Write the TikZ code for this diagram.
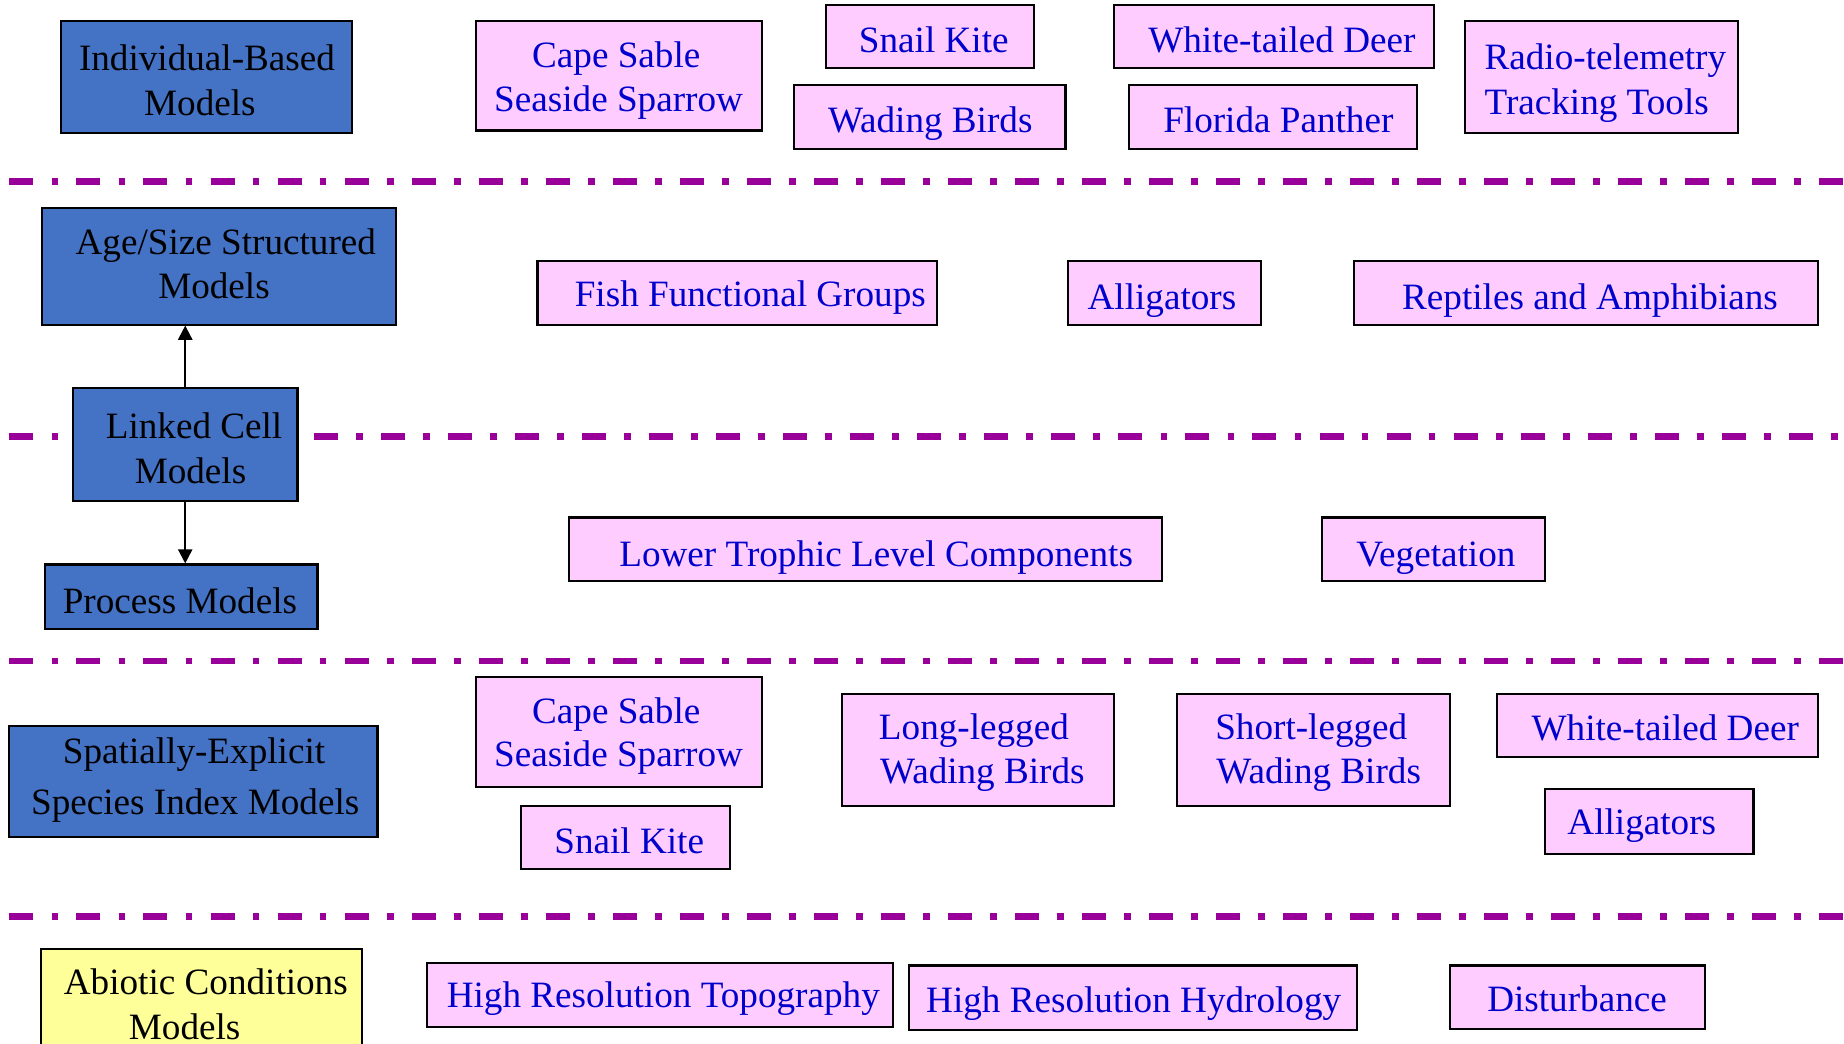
\documentclass[tikz,border=0pt]{standalone}
\usepackage{fontspec}
\setmainfont{Liberation Serif}
\usetikzlibrary{fit,arrows.meta}
\definecolor{modelblue}{HTML}{4472C4}
\definecolor{pinkfill}{HTML}{FFCCFF}
\definecolor{abioyellow}{HTML}{FFFF99}
\definecolor{itemblue}{HTML}{0000CC}
\definecolor{seppurple}{HTML}{990099}
\tikzset{
  boxbase/.style={draw=black, line width=0.9pt, inner sep=0pt},
  modelbox/.style={boxbase, fill=modelblue},
  itembox/.style={boxbase, fill=pinkfill},
  abiobox/.style={boxbase, fill=abioyellow},
  lbl/.style={inner sep=0pt, font=\fontsize{15.8pt}{19pt}\selectfont},
  mtxt/.style={lbl, text=black, anchor=base},
  itxt/.style={lbl, text=itemblue, anchor=base},
  itxtl/.style={lbl, text=itemblue, anchor=base west},
  sepline/.style={draw=seppurple, line width=2.9pt, dash pattern=on 10.2pt off 7.7pt on 2.9pt off 7.7pt},
  linkarrow/.style={draw=black, line width=0.9pt, -{Triangle[width=6pt,length=6pt]}},
}
\begin{document}
\begin{tikzpicture}[x=0.5pt,y=-0.5pt]
\clip (0,0) rectangle (1568,887);
\fill[white] (0,0) rectangle (1568,887);

% separators
\draw[sepline] (8,154) -- (1575,154);
\draw[sepline] (8,371) -- (51,371);
\draw[sepline] (267,371) -- (1575,371);
\draw[sepline] (8,562) -- (1575,562);
\draw[sepline] (8,779) -- (1575,779);

% ---------- row 1 ----------
\node[modelbox, fit={(52,18) (299,113)}] (ibm) {};
\node[mtxt] (ibm1) at (176,60) {Individual-Based};
\node[mtxt] (ibm2) at (170,98) {Models};

\node[itembox, fit={(405,18) (648,111)}] (cs1) {};
\node[itxt] (cs1a) at (524,57) {Cape Sable};
\node[itxt] (cs1b) at (526,95) {Seaside Sparrow};

\node[itembox, fit={(702,4) (879,58)}] (sk1) {};
\node[itxt] (sk1t) at (794,45) {Snail Kite};

\node[itembox, fit={(675,72) (906,127)}] (wb1) {};
\node[itxt] (wb1t) at (791,113) {Wading Birds};

\node[itembox, fit={(947,4) (1219,58)}] (wd1) {};
\node[itxt] (wd1t) at (1090,45) {White-tailed Deer};

\node[itembox, fit={(960,72) (1205,127)}] (fp1) {};
\node[itxt] (fp1t) at (1087,113) {Florida Panther};

\node[itembox, fit={(1246,18) (1478,113)}] (rt1) {};
\node[itxtl] (rt1a) at (1262,59) {Radio-telemetry};
\node[itxtl] (rt1b) at (1262,97) {Tracking Tools};

% ---------- row 2 ----------
\node[modelbox, fit={(36,177) (337,276)}] (asm) {};
\node[mtxt] (asm1) at (192,216) {Age/Size Structured};
\node[mtxt] (asm2) at (182,254) {Models};

\node[itembox, fit={(457,222) (797,276)}] (ffg) {};
\node[itxt] (ffgt) at (638,261) {Fish Functional Groups};

\node[itembox, fit={(908,222) (1072,276)}] (al2) {};
\node[itxt] (al2t) at (988,263) {Alligators};

\node[itembox, fit={(1151,222) (1546,276)}] (ra2) {};
\node[itxt] (ra2t) at (1352,263) {Reptiles and Amphibians};

% ---------- row 3 ----------
\node[modelbox, fit={(62,330) (253,426)}] (lcm) {};
\node[mtxt] (lcm1) at (165,373) {Linked Cell};
\node[mtxt] (lcm2) at (162,411) {Models};

\node[modelbox, fit={(38,480) (270,535)}] (pm) {};
\node[mtxt] (pmt) at (153,522) {Process Models};

\draw[linkarrow] (lcm.north) -- (lcm.north |- asm.south);
\draw[linkarrow] (lcm.south) -- (lcm.south |- pm.north);

\node[itembox, fit={(484,440) (988,494)}] (ltl) {};
\node[itxt] (ltlt) at (745,482) {Lower Trophic Level Components};

\node[itembox, fit={(1124,440) (1314,494)}] (veg) {};
\node[itxt] (vegt) at (1221,482) {Vegetation};

% ---------- row 4 ----------
\node[modelbox, fit={(8,617) (321,712)}] (sei) {};
\node[mtxt] (sei1) at (165,649) {Spatially-Explicit};
\node[mtxt] (sei2) at (166,693) {Species Index Models};

\node[itembox, fit={(405,576) (648,669)}] (cs4) {};
\node[itxt] (cs4a) at (524,615) {Cape Sable};
\node[itxt] (cs4b) at (526,652) {Seaside Sparrow};

\node[itembox, fit={(443,685) (621,739)}] (sk4) {};
\node[itxt] (sk4t) at (535,726) {Snail Kite};

\node[itembox, fit={(716,590) (947,685)}] (llw) {};
\node[itxtl] (llw1) at (747,629) {Long-legged};
\node[itxtl] (llw2) at (748,666) {Wading Birds};

\node[itembox, fit={(1001,590) (1233,685)}] (slw) {};
\node[itxtl] (slw1) at (1033,629) {Short-legged};
\node[itxtl] (slw2) at (1034,666) {Wading Birds};

\node[itembox, fit={(1273,590) (1546,644)}] (wd4) {};
\node[itxt] (wd4t) at (1416,630) {White-tailed Deer};

\node[itembox, fit={(1314,671) (1491,726)}] (al4) {};
\node[itxt] (al4t) at (1396,710) {Alligators};

% ---------- row 5 ----------
\node[abiobox, fit={(35,807) (308,900)}] (abc) {};
\node[mtxt] (abc1) at (175,846) {Abiotic Conditions};
\node[mtxt] (abc2) at (157,884) {Models};

\node[itembox, fit={(363,819) (759,873)}] (hrt) {};
\node[itxt] (hrtt) at (564,857) {High Resolution Topography};

\node[itembox, fit={(773,821) (1154,876)}] (hrh) {};
\node[itxt] (hrht) at (964,861) {High Resolution Hydrology};

\node[itembox, fit={(1233,821) (1450,875)}] (dst) {};
\node[itxt] (dstt) at (1341,860) {Disturbance};
\end{tikzpicture}
\end{document}
